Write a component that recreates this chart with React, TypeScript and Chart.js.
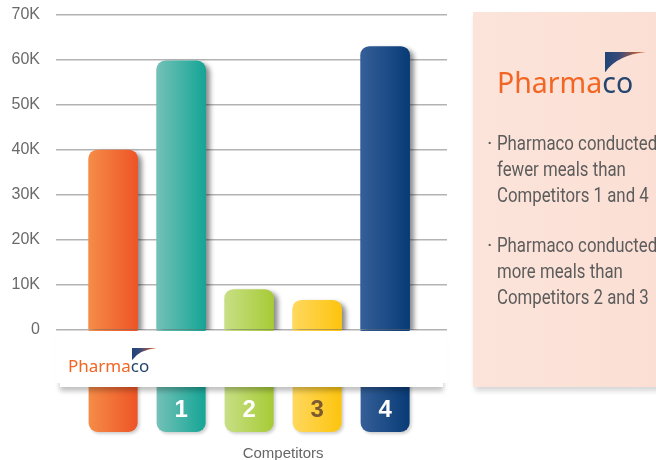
import React, { useEffect, useRef } from "react";
import { Chart, registerables } from "chart.js";

Chart.register(...registerables);

// ---- data ----
const CATEGORIES = ["Pharmaco", "Competitor 1", "Competitor 2", "Competitor 3", "Competitor 4"];
const MEALS = [40000, 59800, 9000, 6600, 63000];
const TICK_LABELS = ["", "1", "2", "3", "4"];
const X_TITLE = "Competitors";
const Y_MAX = 70000;
const Y_STEP = 10000;
const BULLETS = [
  ["Pharmaco conducted", "fewer meals than", "Competitors 1 and 4"],
  ["Pharmaco conducted", "more meals than", "Competitors 2 and 3"],
];

// ---- styles ----
const GRAD_LEFT = ["#f58c47", "#74c1b7", "#c8df85", "#ffd85e", "#355f98"];
const GRAD_RIGHT = ["#ee5426", "#14a596", "#a6cb36", "#fdc40e", "#083b76"];
const LABEL_COLORS = ["#ffffff", "#ffffff", "#ffffff", "#7c5a2f", "#ffffff"];

function barGradient(ctx: CanvasRenderingContext2D, cx: number, w: number, i: number) {
  if (!isFinite(cx) || !isFinite(w)) return GRAD_RIGHT[i];
  const g = ctx.createLinearGradient(cx - w / 2, 0, cx + w / 2, 0);
  g.addColorStop(0, GRAD_LEFT[i]);
  g.addColorStop(1, GRAD_RIGHT[i]);
  return g;
}

const decorPlugin = {
  id: "decor",
  beforeDatasetsDraw(chart: any) {
    const ctx = chart.ctx;
    ctx.save();
    ctx.shadowColor = "rgba(0,0,0,0.45)";
    ctx.shadowBlur = 5;
    ctx.shadowOffsetX = 4;
    ctx.shadowOffsetY = 3;
  },
  afterDatasetsDraw(chart: any) {
    const ctx = chart.ctx;
    ctx.restore();
    const { y } = chart.scales;
    const base = y.getPixelForValue(0);
    const tileBottom = base + 102;
    const meta = chart.getDatasetMeta(0);
    meta.data.forEach((bar: any, i: number) => {
      const w = bar.width;
      const l = bar.x - w / 2;
      ctx.save();
      ctx.shadowColor = "rgba(0,0,0,0.18)";
      ctx.shadowBlur = 3;
      ctx.shadowOffsetX = 2;
      ctx.shadowOffsetY = 2;
      ctx.fillStyle = barGradient(ctx, bar.x, w, i);
      ctx.beginPath();
      ctx.roundRect(l, base, w, tileBottom - base, [0, 0, 9, 9]);
      ctx.fill();
      ctx.restore();
    });
    // white band
    const { left, right } = chart.chartArea;
    ctx.save();
    ctx.shadowColor = "rgba(0,0,0,0.25)";
    ctx.shadowBlur = 5;
    ctx.shadowOffsetY = 4;
    ctx.fillStyle = "#ffffff";
    ctx.fillRect(left + 4, base + 1, right - left - 8, 56);
    ctx.restore();
    ctx.fillStyle = "#ffffff";
    ctx.fillRect(left, base + 1, right - left, 52);
  },
  afterDraw(chart: any) {
    const ctx = chart.ctx;
    const { x } = chart.scales;
    ctx.save();
    ctx.font = '15px "Liberation Sans", Arial, sans-serif';
    ctx.fillStyle = "#666666";
    ctx.textAlign = "center";
    ctx.textBaseline = "alphabetic";
    ctx.fillText(X_TITLE, x.getPixelForValue(2.5), 458);
    ctx.restore();
  },
};

function Logo({ left, top, size }: { left: number; top: number; size: number }) {
  return (
    <div
      style={{
        position: "absolute",
        left,
        top,
        fontFamily: '"Noto Sans", sans-serif',
        fontSize: size,
        lineHeight: 1,
        whiteSpace: "nowrap",
      }}
    >
      <span style={{ color: "#f26522" }}>Pharma</span>
      <span style={{ color: "#24456f", position: "relative" }}>
        co
        <svg
          width={size * 1.45}
          height={size * 0.72}
          viewBox="0 0 42 21"
          preserveAspectRatio="none"
          style={{ position: "absolute", left: "0.1em", bottom: "1.013em" }}
        >
          <defs>
            <linearGradient id={"sw" + Math.round(size)} x1="0" y1="0" x2="1" y2="0">
              <stop offset="0" stopColor="#1f4578" />
              <stop offset="0.35" stopColor="#3a4a78" />
              <stop offset="1" stopColor="#f26522" />
            </linearGradient>
          </defs>
          <path d="M0,0 L42,0 Q12,3 0,21 Z" fill={"url(#sw" + Math.round(size) + ")"} />
        </svg>
      </span>
    </div>
  );
}

export default function App() {
  const ref = useRef<HTMLCanvasElement | null>(null);

  useEffect(() => {
    if (!ref.current) return;
    const chart = new Chart(ref.current, {
      type: "bar",
      data: {
        datasets: [
          {
            label: "Meals",
            data: MEALS.map((v, i) => ({ x: i, y: v })),
            backgroundColor: (c: any) => {
              const ch = c.chart;
              const i = c.dataIndex;
              if (i === undefined || !ch.scales || !ch.scales.x) return GRAD_RIGHT[0];
              return barGradient(ch.ctx, ch.scales.x.getPixelForValue(i), 49, i);
            },
            borderRadius: 9,
            borderSkipped: "start",
            barThickness: 49,
          } as any,
        ],
      },
      plugins: [decorPlugin as any],
      options: {
        animation: false,
        responsive: false,
        devicePixelRatio: 1,
        layout: { padding: { left: 0, top: 15, right: 209, bottom: 0 } },
        plugins: { legend: { display: false }, tooltip: { enabled: false } },
        scales: {
          x: {
            type: "linear",
            min: -0.84,
            max: 4.91,
            offset: false,
            grid: { display: false },
            border: { display: false },
            afterBuildTicks: (s: any) => {
              s.ticks = CATEGORIES.map((_, i) => ({ value: i }));
            },
            afterFit: (s: any) => {
              s.height = 130;
            },
            ticks: {
              z: 1,
              autoSkip: false,
              maxRotation: 0,
              padding: 58,
              callback: (_v: any, i: number) => TICK_LABELS[i],
              color: (c: any) => LABEL_COLORS[c.index] || "#fff",
              font: { family: '"Liberation Sans", Arial, sans-serif', size: 24, weight: "bold" },
            },
          },
          y: {
            min: 0,
            max: Y_MAX,
            border: { display: false },
            grid: { color: "#b3b3b3", lineWidth: 1.5, drawTicks: false },
            afterFit: (s: any) => {
              s.width = 56;
              s.paddingTop = 0;
              s.paddingBottom = 0;
            },
            ticks: {
              stepSize: Y_STEP,
              padding: 16,
              color: "#6a6a6a",
              font: { family: '"Liberation Sans", Arial, sans-serif', size: 16 },
              callback: (v: any) => (v === 0 ? "0" : v / 1000 + "K"),
            },
          },
        },
      } as any,
    });
    return () => chart.destroy();
  }, []);

  return (
    <div
      style={{
        position: "absolute",
        left: 0,
        top: 0,
        width: 656,
        height: 460,
        overflow: "hidden",
        background: "#ffffff",
      }}
    >
      <canvas ref={ref} width={656} height={460} style={{ position: "absolute", left: 0, top: 0 }} />
      <Logo left={68} top={357} size={17} />
      <div
        style={{
          position: "absolute",
          left: 473,
          top: 12,
          width: 220,
          height: 375,
          background: "linear-gradient(to right, #fce4da, #fbded3)",
          boxShadow: "2px 4px 5px rgba(0,0,0,0.16)",
        }}
      />
      <Logo left={497} top={68} size={28.5} />
      <div
        style={{
          position: "absolute",
          left: 497,
          top: 130,
          fontFamily: 'Roboto, "Liberation Sans", sans-serif',
          fontSize: 21,
          lineHeight: "26px",
          color: "#5c5c5c",
          whiteSpace: "nowrap",
        }}
      >
        {BULLETS.map((lines, bi) => (
          <div key={bi} style={{ position: "relative", marginBottom: 24 }}>
            <span style={{ position: "absolute", left: -10, top: 0 }}>·</span>
            {lines.map((ln, li) => (
              <div key={li} style={{ transform: "scaleX(0.8)", transformOrigin: "0 0" }}>
                {ln}
              </div>
            ))}
          </div>
        ))}
      </div>
    </div>
  );
}
